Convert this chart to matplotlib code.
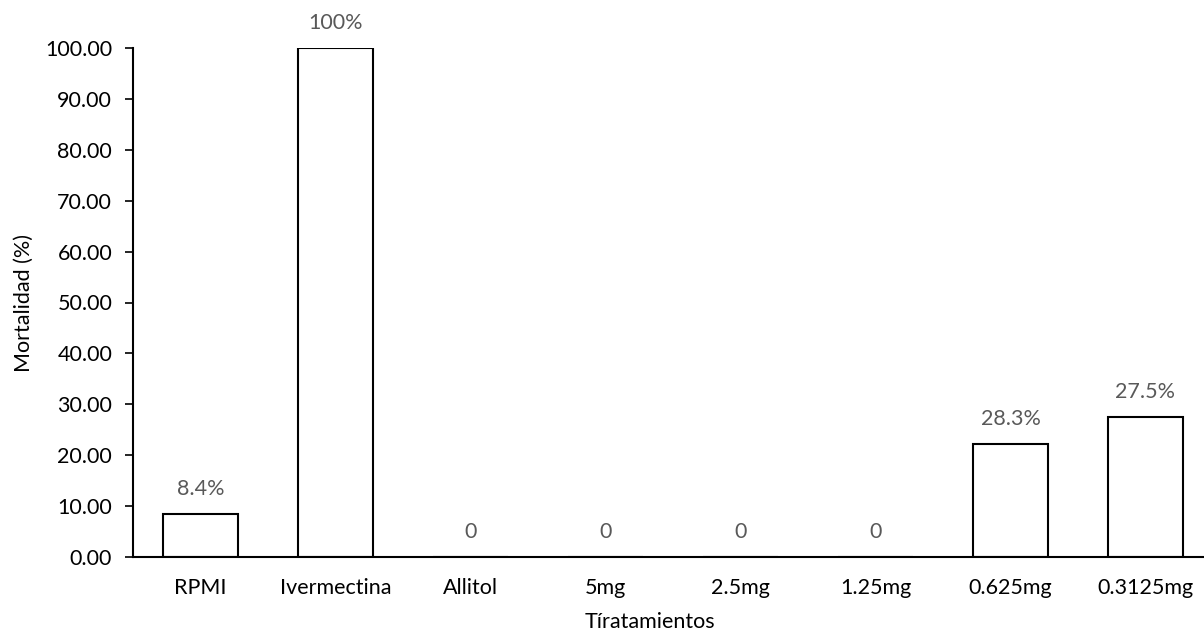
import matplotlib.pyplot as plt
import numpy as np

# ----- Données -----
TRATAMIENTOS = ["RPMI", "Ivermectina", "Allitol", "5mg", "2.5mg", "1.25mg", "0.625mg", "0.3125mg"]
MORTALIDAD = [8.4, 100.0, 0, 0, 0, 0, 22.2, 27.5]
ETIQUETAS = ["8.4%", "100%", "0", "0", "0", "0", "28.3%", "27.5%"]
Y_TICKS = np.arange(0, 101, 10)

plt.rcParams["font.family"] = ["Lato", "DejaVu Sans"]
FS = 15.5

W, H = 1204, 632
fig = plt.figure(figsize=(W / 100, H / 100), dpi=100)
# l'axe déborde à droite comme dans l'original (image recadrée)
x0, x1 = 133, 1213
y0, y1 = 557, 48
ax = fig.add_axes([x0 / W, (H - y0) / H, (x1 - x0) / W, (y0 - y1) / H])

x = np.arange(len(TRATAMIENTOS))
ax.bar(x, MORTALIDAD, width=0.555, color="white", edgecolor="black", linewidth=1.5)

for xi, val, txt in zip(x, MORTALIDAD, ETIQUETAS):
    ax.text(xi, val + 3.0, txt, ha="center", va="bottom", fontsize=FS,
            color="#595959", clip_on=False)

ax.set_xlim(-0.5, len(TRATAMIENTOS) - 0.5)
ax.set_ylim(0, 100)
ax.set_yticks(Y_TICKS)
ax.set_yticklabels([f"{v:.2f}" for v in Y_TICKS], fontsize=FS)
ax.set_xticks(x)
ax.set_xticklabels(TRATAMIENTOS, fontsize=FS)
ax.tick_params(axis="x", length=0, pad=15)
ax.tick_params(axis="y", length=6, width=1.2, direction="out", pad=9)

for side in ["top", "right"]:
    ax.spines[side].set_visible(False)
ax.spines["left"].set_linewidth(1.5)
ax.spines["bottom"].set_linewidth(1.5)

ax.set_ylabel("Mortalidad (%)", fontsize=FS, labelpad=8)
ax.set_xlabel("Tíratamientos", fontsize=FS)
# titre d'axe centré sur la zone visible d'origine, un peu plus bas
ax.xaxis.set_label_coords((650 - x0) / (x1 - x0), -(622 - y0) / (y0 - y1), transform=ax.transAxes)
ax.xaxis.label.set_va("center")

fig.savefig("out.png", dpi=100)
